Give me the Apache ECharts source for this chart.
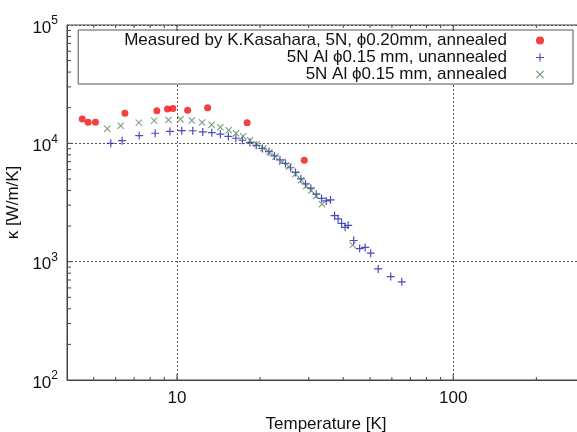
<!DOCTYPE html>
<html>
<head>
<meta charset="utf-8">
<script src="https://cdn.jsdelivr.net/npm/echarts@6/dist/echarts.min.js"></script>
<style>
  html, body { margin: 0; padding: 0; background: #fff; overflow: hidden; }
  #chart { width: 577px; height: 432px; }
</style>
</head>
<body>
<div id="chart"></div>
<script>
// 数据
var seriesNames = [
  'Measured by K.Kasahara, 5N, \u03d50.20mm, annealed',
  '5N Al \u03d50.15 mm, unannealed',
  '5N Al \u03d50.15 mm, annealed'
];
var redT = [4.54, 4.77, 5.07, 6.48, 8.46, 9.24, 9.67, 10.93, 12.91, 17.95, 28.9];
var redK = [16070, 15070, 15070, 17960, 18890, 19520, 19650, 19040, 20020, 14960, 7200];

var blueT = [5.76, 6.33, 7.30, 8.34, 9.43, 10.41, 11.41, 12.40, 13.37, 14.36, 15.35, 16.34, 17.25, 18.37,
  19.36, 20.39, 21.53, 22.54, 23.60, 24.71, 25.77, 26.87, 28.09, 29.21, 30.52, 31.93, 33.38, 34.72, 35.98,
  37.21, 38.31, 39.45, 40.62, 41.66, 43.62, 45.86, 48.02, 50.27, 53.53, 59.42, 65.14];
var blueK = [10020, 10540, 11620, 12170, 12600, 12800, 12780, 12480, 12310, 11960, 11440, 11040, 10620, 10140,
  9600, 9060, 8510, 7830, 7240, 6760, 6220, 5680, 5000, 4540, 4180, 3720, 3420, 3260, 3330,
  2450, 2300, 2110, 1950, 2030, 1510, 1290, 1320, 1180, 869, 748, 675];

var greenT = [5.60, 6.26, 7.28, 8.27, 9.32, 10.30, 11.32, 12.33, 13.35, 14.36, 15.39, 16.37, 17.36, 18.40,
  19.44, 20.56, 21.62, 22.73, 24.04, 25.41, 26.87, 28.18, 29.38, 30.63, 31.93, 33.51, 43.25];
var greenK = [13280, 14080, 14960, 15550, 15760, 15980, 15610, 15010, 14360, 13680, 12900, 12170, 11480, 10620,
  9830, 9090, 8410, 7720, 7000, 6350, 5510, 4910, 4370, 3990, 3590, 3060, 1380];

// tick positions (gnuplot style minor ticks)
var xMinorTicks = [5, 6, 7, 8, 9, 20, 30, 40, 50, 60, 70, 80, 90, 200];
var xMajorTicks = [10, 100];
var yMinorTicks = [200, 300, 400, 500, 600, 700, 800, 900, 2000, 3000, 4000, 5000, 6000, 7000, 8000, 9000,
  20000, 30000, 40000, 50000, 60000, 70000, 80000, 90000];
var yMajorTicks = [1000, 10000];

var xMin = 4, xMax = 300, yMin = 100, yMax = 100000;

function zip(a, b) {
  return a.map(function (v, i) { return [v, b[i]]; });
}

var font = '"Liberation Sans", Arial, sans-serif';
var axisColor = '#444';
var redColor = '#ee1111', blueColor = '#2020a8', greenColor = '#4f7f4f';

var plusPath = 'path://M4.25,0H5.75V4.25H10V5.75H5.75V10H4.25V5.75H0V4.25H4.25Z';
var crossPath = 'path://M0,1L1,0L5,4L9,0L10,1L6,5L10,9L9,10L5,6L1,10L0,9L4,5Z';

function isPow10(v) {
  var l = Math.log10(v);
  return Math.abs(l - Math.round(l)) < 1e-6;
}

// 刻度线 custom series
function tickSeries(vals, isX, len) {
  return {
    type: 'custom',
    silent: true,
    clip: false,
    z: 5,
    data: vals.map(function (v) { return isX ? [v, yMin] : [xMin, v]; }),
    renderItem: function (params, api) {
      var st = { stroke: axisColor, lineWidth: 1 };
      if (isX) {
        var v = api.value(0);
        var b = api.coord([v, yMin]);
        var t = api.coord([v, yMax]);
        return { type: 'group', children: [
          { type: 'line', shape: { x1: b[0], y1: b[1], x2: b[0], y2: b[1] - len }, style: st },
          { type: 'line', shape: { x1: t[0], y1: t[1], x2: t[0], y2: t[1] + len }, style: st }
        ] };
      } else {
        var w = api.value(1);
        var l = api.coord([xMin, w]);
        var r = api.coord([xMax, w]);
        return { type: 'group', children: [
          { type: 'line', shape: { x1: l[0], y1: l[1], x2: l[0] + len, y2: l[1] }, style: st },
          { type: 'line', shape: { x1: r[0], y1: r[1], x2: r[0] - len, y2: r[1] }, style: st }
        ] };
      }
    }
  };
}

var myChart = echarts.init(document.getElementById('chart'));

var option = {
  backgroundColor: '#fff',
  animation: false,
  textStyle: { fontFamily: font },
  // 绘图区右侧超出画布 (the reference is cut at the right edge)
  grid: {
    left: 67, top: 25, width: 518, height: 355,
    outerBoundsMode: 'none',
    show: true, borderColor: axisColor, borderWidth: 1, backgroundColor: 'transparent'
  },
  legend: {
    orient: 'vertical',
    align: 'right',
    right: 4,
    top: 30,
    padding: [2, 29, 1, 46],
    itemGap: 0,
    itemWidth: 8,
    itemHeight: 8,
    backgroundColor: '#fff',
    borderColor: '#555',
    borderWidth: 1,
    borderRadius: 0,
    textStyle: { fontSize: 17, lineHeight: 16, color: '#111', fontFamily: font, padding: [0, 24, 0, 0] },
    data: [
      { name: seriesNames[0], icon: 'circle', itemStyle: { color: redColor } },
      { name: seriesNames[1], icon: plusPath, itemStyle: { color: blueColor } },
      { name: seriesNames[2], icon: crossPath, itemStyle: { color: greenColor } }
    ]
  },
  xAxis: {
    type: 'log',
    logBase: 10,
    min: xMin,
    max: xMax,
    name: 'Temperature [K]',
    nameLocation: 'middle',
    nameGap: 36,
    nameTextStyle: { fontSize: 17, color: '#111', fontFamily: font },
    axisLine: { show: true, lineStyle: { color: axisColor } },
    axisTick: { show: false },
    axisLabel: {
      fontSize: 17, color: '#111', margin: 10, fontFamily: font,
      showMinLabel: false, showMaxLabel: false,
      formatter: function (v) { return isPow10(v) ? String(Math.round(v)) : ''; }
    },
    splitLine: { show: true, lineStyle: { color: '#555', type: [2, 2], width: 1 } }
  },
  yAxis: {
    type: 'log',
    logBase: 10,
    min: yMin,
    max: yMax,
    name: '\u03ba [W/m/K]',
    nameLocation: 'middle',
    nameGap: 34,
    nameRotate: 90,
    nameTextStyle: { fontSize: 17, color: '#111', fontFamily: font },
    axisLine: { show: true, lineStyle: { color: axisColor } },
    axisTick: { show: false },
    axisLabel: {
      color: '#111', margin: 9,
      formatter: function (v) {
        if (!isPow10(v)) return '';
        return '{b|10}{s|' + Math.round(Math.log10(v)) + '}';
      },
      rich: {
        b: { fontSize: 17, color: '#111', fontFamily: font, padding: [6, 0, 0, 0] },
        s: { fontSize: 12, color: '#111', fontFamily: font, padding: [0, 0, 8, 0] }
      }
    },
    splitLine: { show: true, lineStyle: { color: '#555', type: [2, 2], width: 1 } }
  },
  series: [
    {
      name: seriesNames[0],
      type: 'scatter',
      symbol: 'circle',
      symbolSize: 7,
      itemStyle: { color: redColor },
      data: zip(redT, redK)
    },
    {
      name: seriesNames[1],
      type: 'scatter',
      symbol: plusPath,
      symbolSize: 8,
      itemStyle: { color: blueColor },
      data: zip(blueT, blueK)
    },
    {
      name: seriesNames[2],
      type: 'scatter',
      symbol: crossPath,
      symbolSize: 7,
      itemStyle: { color: greenColor },
      data: zip(greenT, greenK)
    },
    tickSeries(xMinorTicks, true, 3),
    tickSeries(xMajorTicks, true, 6),
    tickSeries(yMinorTicks, false, 4),
    tickSeries(yMajorTicks, false, 6)
  ]
};

myChart.setOption(option);
</script>
</body>
</html>
